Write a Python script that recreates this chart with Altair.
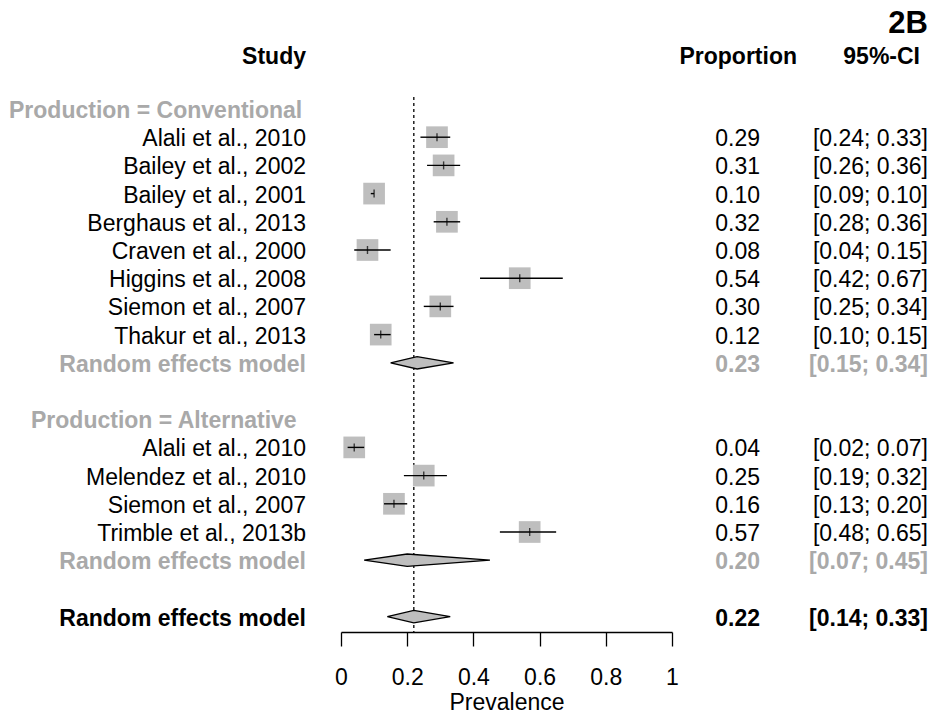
import altair as alt
import pandas as pd

# ---- study-level estimates (proportion and 95% CI) ----
conv_studies = ["Alali et al., 2010", "Bailey et al., 2002", "Bailey et al., 2001",
                "Berghaus et al., 2013", "Craven et al., 2000", "Higgins et al., 2008",
                "Siemon et al., 2007", "Thakur et al., 2013"]
conv_prop = [0.29, 0.31, 0.10, 0.32, 0.08, 0.54, 0.30, 0.12]
conv_lower = [0.24, 0.26, 0.09, 0.28, 0.04, 0.42, 0.25, 0.10]
conv_upper = [0.33, 0.36, 0.10, 0.36, 0.15, 0.67, 0.34, 0.15]

alt_studies = ["Alali et al., 2010", "Melendez et al., 2010", "Siemon et al., 2007",
               "Trimble et al., 2013b"]
alt_prop = [0.04, 0.25, 0.16, 0.57]
alt_lower = [0.02, 0.19, 0.13, 0.48]
alt_upper = [0.07, 0.32, 0.20, 0.65]

# ---- pooled (random effects) estimates: conventional, alternative, overall ----
pooled_labels = ["Random effects model", "Random effects model", "Random effects model"]
pooled_prop = [0.23, 0.20, 0.22]
pooled_lower = [0.15, 0.07, 0.14]
pooled_upper = [0.34, 0.45, 0.33]

group_headers = ["Production = Conventional", "Production = Alternative"]
x_ticks = [0, 0.2, 0.4, 0.6, 0.8, 1]

# ---- row layout: header, studies, pooled, blank ... overall ----
conv_rows = list(range(1, 1 + len(conv_studies)))
conv_pooled_row = conv_rows[-1] + 1
alt_header_row = conv_pooled_row + 2
alt_rows = list(range(alt_header_row + 1, alt_header_row + 1 + len(alt_studies)))
alt_pooled_row = alt_rows[-1] + 1
overall_row = alt_pooled_row + 2
pooled_rows = [conv_pooled_row, alt_pooled_row, overall_row]

studies = pd.DataFrame({
    "label": conv_studies + alt_studies,
    "prop": conv_prop + alt_prop,
    "lower": conv_lower + alt_lower,
    "upper": conv_upper + alt_upper,
    "row": conv_rows + alt_rows,
})
studies["prop_txt"] = studies["prop"].map(lambda v: f"{v:.2f}")
studies["ci_txt"] = [f"[{l:.2f}; {u:.2f}]" for l, u in zip(studies["lower"], studies["upper"])]

pooled = pd.DataFrame({
    "label": pooled_labels,
    "prop": pooled_prop,
    "lower": pooled_lower,
    "upper": pooled_upper,
    "row": pooled_rows,
    "kind": ["subgroup", "subgroup", "overall"],
})
pooled["prop_txt"] = pooled["prop"].map(lambda v: f"{v:.2f}")
pooled["ci_txt"] = [f"[{l:.2f}; {u:.2f}]" for l, u in zip(pooled["lower"], pooled["upper"])]

# diamond outline: lower / estimate / upper vertices, half-height in row units
HALF = 0.22
diamond_rows = []
for _, r in pooled.iterrows():
    for xv, h in ((r["lower"], 0.0), (r["prop"], HALF), (r["upper"], 0.0)):
        diamond_rows.append({"row": r["row"], "x": xv, "y1": r["row"] - h, "y2": r["row"] + h})
diamonds = pd.DataFrame(diamond_rows)

headers = pd.DataFrame({"label": group_headers, "row": [0, alt_header_row]})

FONT = "Liberation Sans"
GREY_TXT = "#a9a9a9"
GREY_FILL = "#bebebe"
FS = 23
DY = 2

PLOT_W, PLOT_H = 331, 632
y_scale = alt.Scale(domain=[-3.865, 18.546], reverse=True, nice=False, zero=False)
x_scale = alt.Scale(domain=[0, 1], nice=False, zero=True)

X = alt.X("prop:Q", scale=x_scale,
          axis=alt.Axis(values=x_ticks, format="~g", title="Prevalence", grid=False,
                        domainColor="black", domainWidth=1.3, tickColor="black",
                        tickWidth=1.3, tickSize=14, labelFontSize=FS, labelFont=FONT,
                        labelColor="black", labelPadding=20, titleFont=FONT,
                        titleFontSize=FS, titleFontWeight="normal", titleColor="black",
                        titlePadding=2, labelFlush=False))
Y = alt.Y("row:Q", scale=y_scale, axis=None)

base = alt.Chart(studies)

ref_line = alt.Chart(pooled[pooled["kind"] == "overall"]).mark_rule(
    color="black", strokeWidth=1.3, strokeDash=[3, 3]
).encode(x=alt.X("prop:Q", scale=x_scale), y=alt.value(97), y2=alt.value(PLOT_H))

squares = base.mark_square(size=470, color=GREY_FILL, opacity=1).encode(x=X, y=Y)
ci = base.mark_rule(color="black", strokeWidth=1.4).encode(
    x=alt.X("lower:Q", scale=x_scale), x2="upper:Q", y=Y)
centre = base.mark_tick(orient="vertical", size=8, thickness=1.4, color="black").encode(
    x=alt.X("prop:Q", scale=x_scale), y=Y)

diamond = alt.Chart(diamonds).mark_area(
    orient="vertical", fill=GREY_FILL, stroke="black", strokeWidth=1.3, opacity=1
).encode(
    x=alt.X("x:Q", scale=x_scale),
    y=alt.Y("y1:Q", scale=y_scale, axis=None),
    y2="y2:Q",
    detail="row:N",
)

LABEL_X = 306 - 341
PROP_X = 760 - 341
CI_X = 928 - 341

txt = dict(font=FONT, fontSize=FS, baseline="middle", align="right", dy=DY)

study_lab = base.mark_text(color="black", **txt).encode(x=alt.value(LABEL_X), y=Y, text="label:N")
study_prop = base.mark_text(color="black", **txt).encode(x=alt.value(PROP_X), y=Y, text="prop_txt:N")
study_ci = base.mark_text(color="black", **txt).encode(x=alt.value(CI_X), y=Y, text="ci_txt:N")

pooled_color = alt.Color("kind:N", scale=alt.Scale(domain=["subgroup", "overall"],
                                                     range=[GREY_TXT, "black"]), legend=None)
pb = alt.Chart(pooled)
pooled_lab = pb.mark_text(fontWeight="bold", **txt).encode(
    x=alt.value(LABEL_X), y=Y, text="label:N", color=pooled_color)
pooled_prop_t = pb.mark_text(fontWeight="bold", **txt).encode(
    x=alt.value(PROP_X), y=Y, text="prop_txt:N", color=pooled_color)
pooled_ci_t = pb.mark_text(fontWeight="bold", **txt).encode(
    x=alt.value(CI_X), y=Y, text="ci_txt:N", color=pooled_color)

hdr_txt = dict(fontWeight="bold", color=GREY_TXT, font=FONT, fontSize=FS,
               baseline="middle", align="left", dy=DY)
hdr1 = alt.Chart(headers.iloc[[0]]).mark_text(**hdr_txt).encode(
    x=alt.value(9 - 341), y=Y, text="label:N")
hdr2 = alt.Chart(headers.iloc[[1]]).mark_text(**hdr_txt).encode(
    x=alt.value(31 - 341), y=Y, text="label:N")

col_titles = pd.DataFrame({"t": ["Study", "Proportion", "95%-CI"],
                           "px": [306 - 341, 797 - 341, 920 - 341]})
col_head = alt.Chart(col_titles).mark_text(
    fontWeight="bold", color="black", font=FONT, fontSize=FS, baseline="middle",
    align="right", dy=DY
).encode(x=alt.X("px:Q", scale=None), y=alt.value(55), text="t:N")

panel = alt.Chart(pd.DataFrame({"t": ["2B"]})).mark_text(
    fontWeight="bold", color="black", font=FONT, fontSize=31, baseline="middle",
    align="right", dy=DY
).encode(x=alt.value(928 - 341), y=alt.value(22), text="t:N")

chart = alt.layer(
    ref_line, squares, ci, centre, diamond,
    study_lab, study_prop, study_ci,
    pooled_lab, pooled_prop_t, pooled_ci_t,
    hdr1, hdr2, col_head, panel,
).properties(
    width=PLOT_W, height=PLOT_H,
    padding={"left": 341, "top": 0, "right": 932 - 341 - PLOT_W, "bottom": 714 - PLOT_H},
    autosize=alt.AutoSizeParams(type="none"),
    background="white",
).configure_view(stroke=None)

chart.save("out.html", embed_options={"renderer": "svg", "actions": False})
